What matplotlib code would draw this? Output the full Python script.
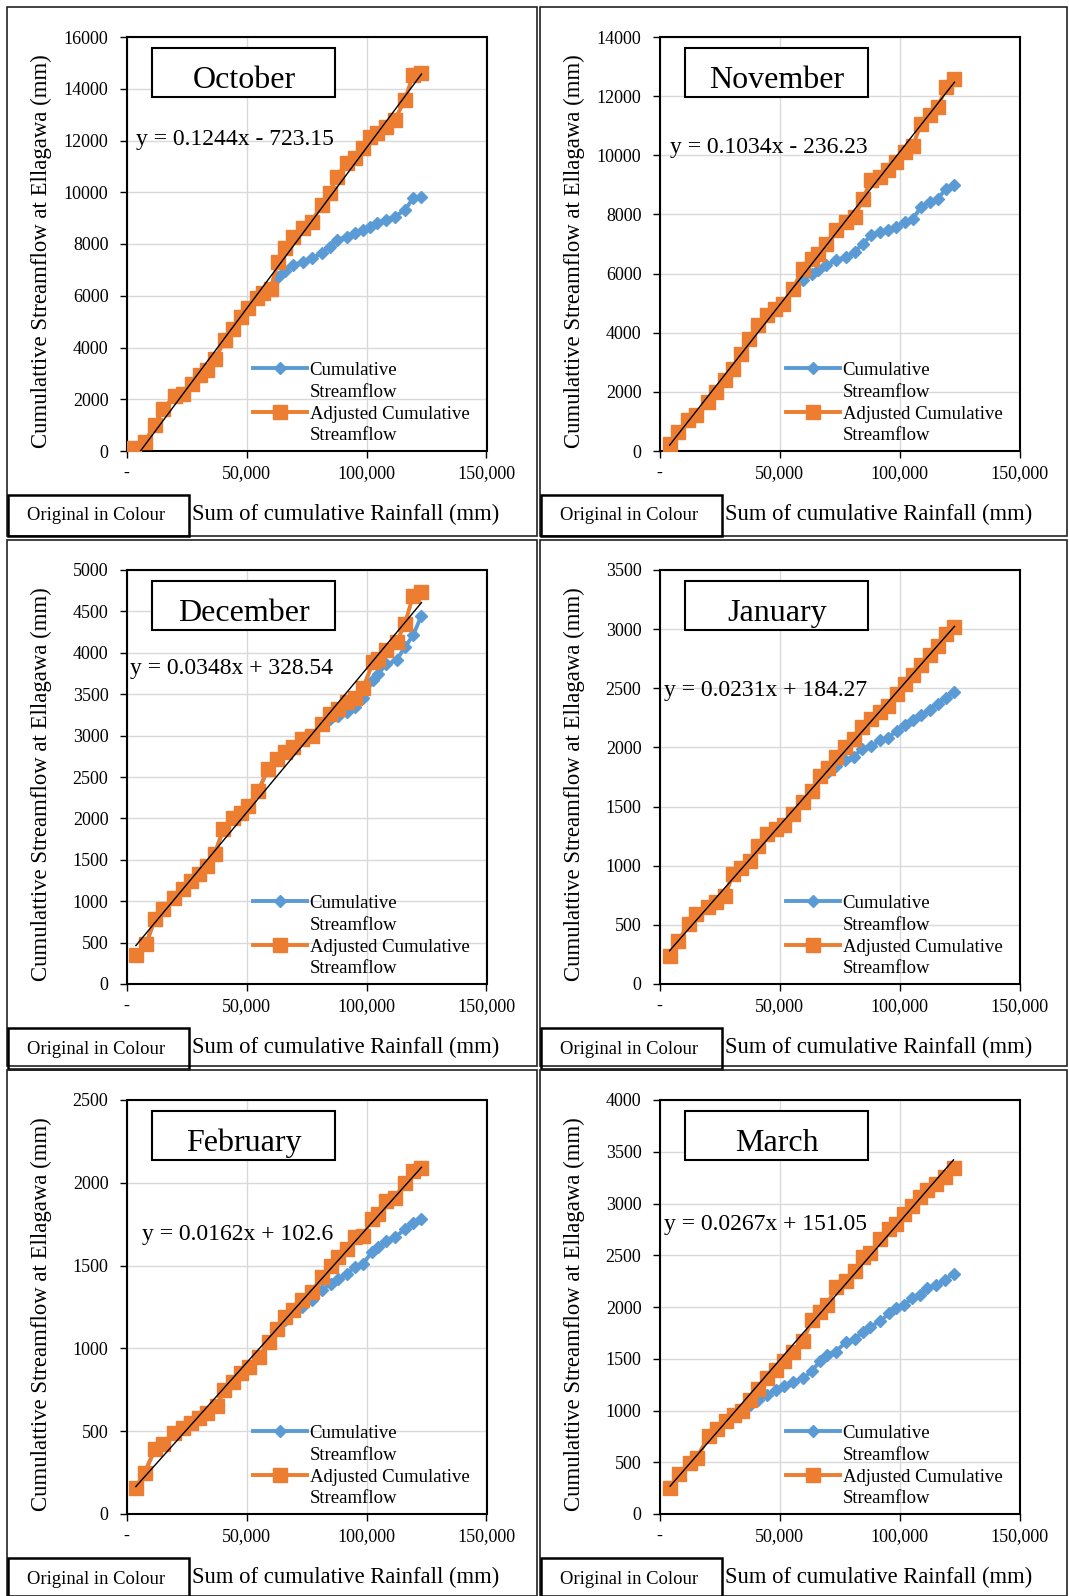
import matplotlib
matplotlib.use("Agg")
import matplotlib.pyplot as plt
from matplotlib.lines import Line2D
from matplotlib.patches import Rectangle
from matplotlib.ticker import FuncFormatter, MultipleLocator

plt.rcParams["font.family"] = ["Liberation Serif", "DejaVu Serif"]

W, H = 1069, 1596

MONTHS = ["October", "November", "December", "January", "February", "March"]
EQ_LABELS = [
    "y = 0.1244x - 723.15",
    "y = 0.1034x - 236.23",
    "y = 0.0348x + 328.54",
    "y = 0.0231x + 184.27",
    "y = 0.0162x + 102.6",
    "y = 0.0267x + 151.05",
]
SLOPES = [0.1244, 0.1034, 0.0348, 0.0231, 0.0162, 0.0267]
INTERCEPTS = [-723.15, -236.23, 328.54, 184.27, 102.6, 151.05]
Y_MAX = [16000, 14000, 5000, 3500, 2500, 4000]
Y_STEP = [2000, 2000, 500, 500, 500, 500]

oct_rain = [3100, 7600, 11800, 15300, 20100, 23600, 27100, 30600, 33600, 36800, 41000, 44400,
            47900, 50700, 54200, 56900, 60000, 63200, 66000, 69400, 73600, 77100, 81300, 84700,
            87500, 91700, 95100, 98600, 101400, 104200, 108300, 111800, 116000, 119400, 122900]
oct_flow = [130, 350, 990, 1640, 2120, 2190, 2580, 2930, 3120, 3570, 4280, 4730, 5190, 5510,
            5900, 6090, 6280, 6730, 6970, 7190, 7310, 7440, 7640, 7900, 8150, 8280, 8410, 8540,
            8670, 8800, 8930, 9060, 9310, 9770, 9830]
oct_adj = [130, 350, 990, 1640, 2120, 2190, 2580, 2930, 3120, 3570, 4280, 4730, 5190, 5510,
           5900, 6090, 6280, 7310, 7830, 8280, 8600, 8860, 9510, 9960, 10600, 11120, 11310,
           11700, 12150, 12280, 12540, 12800, 13570, 14540, 14600]

nov_rain = [4200, 7900, 11800, 15300, 20400, 23600, 27100, 30600, 33800, 37100, 41000, 44900,
            48200, 51400, 55600, 59700, 63500, 66000, 69400, 73600, 77800, 81300, 84700, 88200,
            91700, 95100, 98600, 102100, 105600, 109000, 112500, 116000, 119400, 122900]
nov_flow = [250, 640, 1040, 1210, 1660, 2000, 2390, 2780, 3290, 3800, 4250, 4590, 4810, 4980,
            5490, 5770, 6000, 6110, 6280, 6450, 6560, 6730, 7010, 7290, 7400, 7460, 7570, 7740,
            7860, 8250, 8420, 8530, 8870, 8980]
nov_adj = [250, 640, 1040, 1210, 1660, 2000, 2390, 2780, 3290, 3800, 4250, 4590, 4810, 4980,
           5490, 6160, 6500, 6670, 7010, 7460, 7740, 7910, 8530, 9150, 9260, 9490, 9770, 10110,
           10330, 11070, 11350, 11630, 12310, 12590]

dec_rain = [3900, 8100, 11800, 15000, 19900, 23600, 26800, 30300, 33600, 36800, 40300, 44200,
            47900, 50700, 54900, 59000, 62500, 66000, 69400, 73300, 77100, 81300, 84700, 88200,
            91700, 95100, 98600, 102800, 104900, 108300, 112500, 116000, 119400, 122900]
dec_flow = [350, 480, 780, 900, 1040, 1150, 1250, 1330, 1430, 1570, 1870, 2010, 2070, 2150,
            2330, 2600, 2720, 2800, 2860, 2960, 3000, 3140, 3200, 3240, 3280, 3340, 3460, 3670,
            3750, 3860, 3910, 4070, 4210, 4450]
dec_adj = [350, 480, 780, 900, 1040, 1150, 1250, 1330, 1430, 1570, 1870, 2010, 2070, 2150,
           2330, 2600, 2720, 2800, 2860, 2960, 3000, 3140, 3260, 3320, 3400, 3460, 3580, 3890,
           3930, 4030, 4130, 4350, 4690, 4730]

jan_rain = [4200, 7900, 12100, 15300, 20100, 23600, 27100, 30600, 34000, 37500, 41000, 44900,
            48600, 51800, 55600, 59700, 63500, 66700, 70100, 73600, 77400, 81000, 84300, 88200,
            91700, 95100, 99000, 102100, 105600, 109000, 112500, 116000, 119400, 122900]
jan_flow = [240, 360, 510, 590, 650, 690, 740, 930, 980, 1040, 1170, 1270, 1310, 1340, 1440,
            1540, 1630, 1760, 1790, 1840, 1890, 1920, 1990, 2010, 2060, 2080, 2140, 2190, 2230,
            2270, 2320, 2370, 2420, 2470]
jan_adj = [240, 360, 510, 590, 650, 690, 740, 930, 980, 1040, 1170, 1270, 1310, 1340, 1440,
           1540, 1630, 1760, 1830, 1920, 2000, 2070, 2170, 2240, 2300, 2350, 2450, 2540, 2610,
           2700, 2780, 2860, 2960, 3020]

feb_rain = [3900, 7600, 11800, 15000, 19900, 23600, 26800, 30300, 33600, 37500, 40700, 44400,
            47900, 51100, 55300, 59400, 62500, 66000, 69400, 73300, 77100, 81300, 85000, 88200,
            91700, 95100, 98600, 102100, 104900, 108300, 111800, 116000, 119400, 122900]
feb_flow = [160, 250, 390, 420, 490, 520, 550, 580, 610, 650, 750, 800, 850, 890, 950, 1040,
            1120, 1170, 1230, 1250, 1290, 1350, 1390, 1420, 1450, 1490, 1510, 1580, 1610, 1650,
            1670, 1720, 1760, 1780]
feb_adj = [160, 250, 390, 420, 490, 520, 550, 580, 610, 650, 750, 800, 850, 890, 950, 1040,
           1120, 1190, 1230, 1290, 1340, 1430, 1500, 1550, 1600, 1670, 1680, 1780, 1810, 1890,
           1910, 2000, 2070, 2090]

mar_rain = [4400, 8300, 12600, 15500, 20500, 24000, 27600, 31200, 34300, 37600, 41200, 44800,
            48400, 51900, 55500, 59800, 63400, 67000, 69800, 73400, 77700, 81300, 84900, 87700,
            92000, 95600, 98700, 102000, 105300, 108500, 111600, 115300, 118800, 122500]
mar_flow = [250, 390, 490, 540, 750, 820, 900, 960, 1000, 1050, 1100, 1150, 1200, 1240, 1280,
            1310, 1380, 1480, 1540, 1570, 1660, 1690, 1760, 1810, 1860, 1940, 1990, 2020, 2090,
            2120, 2180, 2210, 2260, 2320]
mar_adj = [250, 390, 490, 540, 750, 820, 900, 960, 1000, 1100, 1210, 1310, 1390, 1480, 1570,
           1670, 1870, 1950, 2020, 2190, 2250, 2350, 2480, 2520, 2660, 2750, 2800, 2900, 2980,
           3060, 3130, 3190, 3260, 3340]

RAIN = [oct_rain, nov_rain, dec_rain, jan_rain, feb_rain, mar_rain]
FLOW = [oct_flow, nov_flow, dec_flow, jan_flow, feb_flow, mar_flow]
ADJ = [oct_adj, nov_adj, dec_adj, jan_adj, feb_adj, mar_adj]

# layout (pixels from top-left)
CELL_X = [7, 540]
CELL_Y = [7, 540, 1070]
CELL_W = [530, 527]
CELL_H = [529, 526, 526]
EQ_POS = [(0.026, 0.738), (0.028, 0.720), (0.009, 0.749),
          (0.012, 0.696), (0.044, 0.663), (0.012, 0.687)]

BLUE = "#5B9BD5"
ORANGE = "#ED7D31"


def fx(x):
    return x / W


def fy(y):
    return 1 - y / H


def xfmt(v, pos):
    return "-" if v == 0 else f"{v:,.0f}"


fig = plt.figure(figsize=(W / 100, H / 100), dpi=100)

for i, month in enumerate(MONTHS):
    col, row = i % 2, i // 2
    cx, cy = CELL_X[col], CELL_Y[row]

    fig.patches.append(Rectangle((fx(cx), fy(cy + CELL_H[row])), CELL_W[col] / W,
                                 CELL_H[row] / H, transform=fig.transFigure,
                                 fill=False, ec="#222222", lw=1.2))

    ax = fig.add_axes([fx(cx + 119.5), fy(cy + 30 + 414), 360 / W, 414 / H])
    rain = RAIN[i]

    blue_line, = ax.plot(rain, FLOW[i], color=BLUE, lw=2.8, marker="D", ms=6,
                         mec=BLUE, mfc=BLUE, zorder=3)
    orange_line, = ax.plot(rain, ADJ[i], color=ORANGE, lw=2.8, marker="s", ms=9.5,
                           mec=ORANGE, mfc=ORANGE, zorder=4)
    tx = [rain[0], rain[-1]]
    ty = [SLOPES[i] * v + INTERCEPTS[i] for v in tx]
    ax.plot(tx, ty, color="black", lw=1.0, zorder=5)

    ax.set_xlim(0, 150000)
    ax.set_ylim(0, Y_MAX[i])
    ax.xaxis.set_major_locator(MultipleLocator(50000))
    ax.yaxis.set_major_locator(MultipleLocator(Y_STEP[i]))
    ax.xaxis.set_major_formatter(FuncFormatter(xfmt))
    ax.grid(True, color="#D9D9D9", lw=1.0, zorder=0)
    ax.set_axisbelow(True)
    for s in ax.spines.values():
        s.set_linewidth(1.5)
        s.set_color("black")
    ax.tick_params(direction="out", length=5, width=1, labelsize=13)
    ax.tick_params(axis="y", pad=8)
    ax.tick_params(axis="x", pad=5)

    # legend: handle beside first line of each wrapped label
    blank = Line2D([], [], linestyle="none")
    ax.legend([blue_line, blank, orange_line, blank],
              ["Cumulative", "Streamflow", "Adjusted Cumulative", "Streamflow"],
              loc="lower left", bbox_to_anchor=(0.35, 0.016), frameon=False,
              fontsize=13.5, handlelength=2.9, handletextpad=0.15,
              labelspacing=0.25, borderaxespad=0, borderpad=0)

    ax.add_patch(Rectangle((0.072, 0.856), 0.508, 0.117, transform=ax.transAxes,
                           fc="white", ec="black", lw=1.5, zorder=6))
    ax.text(0.326, 0.876, month, transform=ax.transAxes, ha="center", va="baseline",
            fontsize=23, zorder=7)
    ax.text(EQ_POS[i][0], EQ_POS[i][1], EQ_LABELS[i], transform=ax.transAxes,
            ha="left", va="baseline", fontsize=17, zorder=7)

    fig.text(fx(cx + 34), fy(cy + 244.5), "Cumulattive Streamflow at Ellagawa (mm)",
             rotation=90, ha="center", va="center", fontsize=16.4)
    fig.text(fx(cx + 339), fy(cy + 507), "Sum of cumulative Rainfall (mm)",
             ha="center", va="center", fontsize=16.3)

    fig.patches.append(Rectangle((fx(cx + 0.6), fy(cy + 529)), 181.5 / W, 41.5 / H,
                                 transform=fig.transFigure, fill=False,
                                 ec="black", lw=1.8))
    fig.text(fx(cx + 88.7), fy(cy + 509), "Original in Colour",
             ha="center", va="center", fontsize=13.4)

fig.savefig("out.png", dpi=100)
